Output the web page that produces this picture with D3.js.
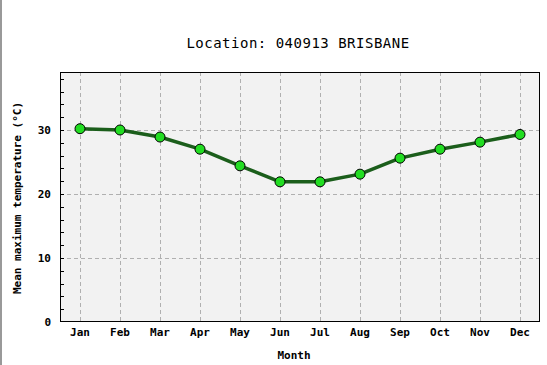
<!DOCTYPE html>
<html><head><meta charset="utf-8">
<script src="https://cdn.jsdelivr.net/npm/d3@7/dist/d3.min.js"></script>
<style>
html,body{margin:0;padding:0;background:#fff;}
svg{display:block;}
text{font-family:"DejaVu Sans Mono",monospace;}
</style></head><body>
<svg id="c" width="547" height="365"></svg>
<script>
const months = ["Jan","Feb","Mar","Apr","May","Jun","Jul","Aug","Sep","Oct","Nov","Dec"];
const temps = [30.2, 30.0, 28.9, 27.0, 24.4, 21.9, 21.9, 23.1, 25.6, 27.0, 28.1, 29.3];
const yTicks = [0, 10, 20, 30];
const title = "Location: 040913 BRISBANE";
const xTitle = "Month";
const yTitle = "Mean maximum temperature (°C)";

const svg = d3.select("#c");
const L = 60, R = 540, T = 72, B = 322;

svg.append("rect").attr("x",0).attr("y",0).attr("width",2).attr("height",365).attr("fill","#999");

const x = d3.scalePoint().domain(months).range([L, R]).padding(0.5);
const y = d3.scaleLinear().domain([0, 39.06]).range([B, T]);

svg.append("rect").attr("x",L).attr("y",T).attr("width",R-L).attr("height",B-T).attr("fill","#f2f2f2");

// grid
svg.append("g").selectAll("line").data(months).join("line")
  .attr("x1",d=>x(d)+0.5).attr("x2",d=>x(d)+0.5).attr("y1",T).attr("y2",B)
  .attr("stroke","#b0b0b0").attr("stroke-dasharray","4,3");
svg.append("g").selectAll("line").data(yTicks.filter(v=>v>0)).join("line")
  .attr("x1",L).attr("x2",R).attr("y1",d=>Math.round(y(d))+0.5).attr("y2",d=>Math.round(y(d))+0.5)
  .attr("stroke","#b0b0b0").attr("stroke-dasharray","4,3");

// minor ticks on left axis (inside)
svg.append("g").selectAll("line").data(d3.range(2, 39, 2)).join("line")
  .attr("x1",L).attr("x2",L+4).attr("y1",d=>Math.round(y(d))+0.5).attr("y2",d=>Math.round(y(d))+0.5)
  .attr("stroke","#000");

// border
svg.append("rect").attr("x",L+0.5).attr("y",T+0.5).attr("width",R-L-1).attr("height",B-T-1)
  .attr("fill","none").attr("stroke","#000").attr("stroke-width",1);

// line
svg.append("path").datum(temps.map((v,i)=>[months[i],v]))
  .attr("d", d3.line().x(d=>x(d[0])).y(d=>y(d[1])))
  .attr("fill","none").attr("stroke","#1b5e1b").attr("stroke-width",3.5).attr("stroke-linejoin","round");

svg.append("g").selectAll("circle").data(temps).join("circle")
  .attr("cx",(d,i)=>x(months[i])).attr("cy",d=>y(d)).attr("r",5)
  .attr("fill","#22dd22").attr("stroke","#000").attr("stroke-width",1);

// tick labels
svg.append("g").selectAll("text").data(months).join("text")
  .attr("x",d=>x(d)).attr("y",336).attr("text-anchor","middle")
  .attr("font-size",11).attr("font-weight","bold").text(d=>d);
svg.append("g").selectAll("text").data(yTicks).join("text")
  .attr("x",51).attr("y",d=>y(d)+4).attr("text-anchor","end")
  .attr("font-size",11).attr("font-weight","bold").text(d=>d);

svg.append("text").attr("x",294).attr("y",359).attr("text-anchor","middle")
  .attr("font-size",11).attr("font-weight","bold").text(xTitle);
svg.append("text").attr("transform","translate(21,198) rotate(-90)").attr("text-anchor","middle")
  .attr("font-size",11).attr("font-weight","bold").text(yTitle);

svg.append("text").attr("x",298).attr("y",48).attr("text-anchor","middle")
  .attr("font-size",14).attr("letter-spacing","0.5").text(title);
</script></body></html>
